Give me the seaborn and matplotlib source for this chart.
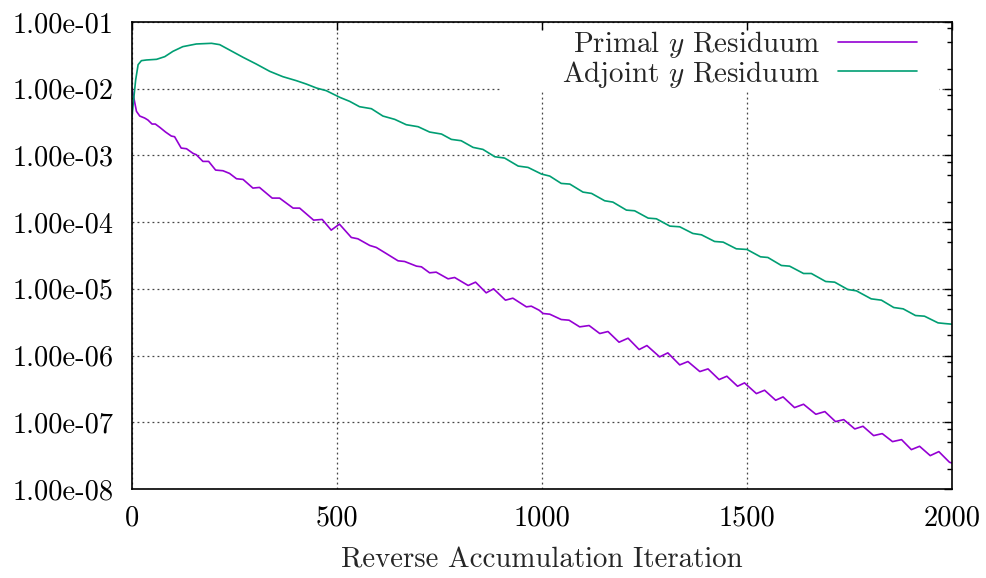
import numpy as np
import pandas as pd
import matplotlib
matplotlib.use("Agg")
import matplotlib.pyplot as plt
from matplotlib.patches import Rectangle
from matplotlib.ticker import FixedLocator, FixedFormatter, LogLocator, NullFormatter
import seaborn as sns

# Residual histories (iteration, log10 of residual norm)
primal_iter = [0, 4, 11, 19, 31, 39, 49, 57, 68, 82, 96, 104, 120, 133, 149, 157,
               173, 187, 204, 222, 238, 255, 271, 295, 311, 342, 360, 393, 409,
               443, 464, 486, 506, 535, 551, 580, 596, 620, 649, 665, 694, 706,
               726, 742, 771, 787, 820, 838, 864, 882, 911, 929, 962, 974, 993,
               1003, 1019, 1047, 1066, 1092, 1115, 1141, 1161, 1188, 1210, 1237,
               1256, 1287, 1307, 1336, 1356, 1385, 1405, 1432, 1451, 1477, 1494,
               1523, 1543, 1570, 1588, 1616, 1638, 1668, 1690, 1716, 1736, 1763,
               1783, 1809, 1830, 1855, 1877, 1901, 1921, 1947, 1968, 1994, 2000]
primal_log10 = [-2.00, -2.12, -2.34, -2.41, -2.44, -2.47, -2.53, -2.53, -2.58, -2.65,
                -2.71, -2.72, -2.89, -2.90, -2.97, -2.99, -3.09, -3.09, -3.22, -3.23,
                -3.27, -3.35, -3.36, -3.49, -3.48, -3.64, -3.64, -3.79, -3.79, -3.97,
                -3.96, -4.12, -4.03, -4.23, -4.25, -4.35, -4.38, -4.47, -4.58, -4.59,
                -4.66, -4.67, -4.76, -4.75, -4.85, -4.83, -4.95, -4.90, -5.06, -5.00,
                -5.17, -5.14, -5.27, -5.26, -5.32, -5.37, -5.38, -5.46, -5.47, -5.57,
                -5.55, -5.67, -5.64, -5.80, -5.74, -5.91, -5.85, -6.02, -5.96, -6.14,
                -6.09, -6.24, -6.20, -6.36, -6.31, -6.46, -6.41, -6.57, -6.52, -6.67,
                -6.62, -6.78, -6.73, -6.88, -6.84, -6.99, -6.96, -7.10, -7.06, -7.20,
                -7.17, -7.29, -7.26, -7.41, -7.36, -7.50, -7.44, -7.60, -7.61]

adjoint_iter = [0, 4, 9, 15, 23, 35, 60, 80, 100, 124, 157, 194, 214, 238, 271, 303,
                336, 368, 401, 425, 450, 474, 507, 531, 555, 584, 612, 641, 669, 698,
                726, 755, 779, 803, 832, 856, 885, 909, 942, 966, 999, 1019, 1047,
                1068, 1100, 1121, 1153, 1173, 1206, 1226, 1259, 1279, 1312, 1336,
                1368, 1389, 1421, 1442, 1474, 1500, 1533, 1551, 1584, 1604, 1638,
                1657, 1692, 1714, 1746, 1767, 1803, 1828, 1858, 1881, 1911, 1933,
                1966, 1982, 2000]
adjoint_log10 = [-2.42, -2.17, -1.87, -1.64, -1.58, -1.57, -1.56, -1.52, -1.44, -1.37,
                 -1.33, -1.32, -1.34, -1.42, -1.53, -1.63, -1.74, -1.82, -1.88, -1.93,
                 -1.99, -2.03, -2.13, -2.19, -2.27, -2.30, -2.41, -2.46, -2.54, -2.57,
                 -2.65, -2.68, -2.76, -2.78, -2.88, -2.91, -3.02, -3.04, -3.16, -3.18,
                 -3.28, -3.31, -3.42, -3.43, -3.55, -3.57, -3.68, -3.70, -3.82, -3.83,
                 -3.94, -3.95, -4.06, -4.07, -4.17, -4.19, -4.29, -4.30, -4.40, -4.41,
                 -4.52, -4.53, -4.65, -4.66, -4.77, -4.77, -4.89, -4.90, -5.01, -5.03,
                 -5.15, -5.17, -5.28, -5.30, -5.40, -5.41, -5.51, -5.52, -5.53]

series_labels = ["Primal $y$ Residuum", "Adjoint $y$ Residuum"]
series_colors = ["#9400d3", "#009e73"]
x_ticks = [0, 500, 1000, 1500, 2000]
y_ticks = [1e-8, 1e-7, 1e-6, 1e-5, 1e-4, 1e-3, 1e-2, 1e-1]
y_tick_labels = ["1.00e-08", "1.00e-07", "1.00e-06", "1.00e-05",
                 "1.00e-04", "1.00e-03", "1.00e-02", "1.00e-01"]
x_label = "Reverse Accumulation Iteration"

sns.set_theme(style="white")
plt.rcParams.update({
    "font.family": ["cmr10", "DejaVu Serif"],
    "mathtext.fontset": "cm",
    "axes.unicode_minus": False,
    "axes.edgecolor": "black",
    "axes.linewidth": 1.2,
})

df = pd.concat([
    pd.DataFrame({"iteration": primal_iter,
                  "residual": np.power(10.0, primal_log10),
                  "series": series_labels[0]}),
    pd.DataFrame({"iteration": adjoint_iter,
                  "residual": np.power(10.0, adjoint_log10),
                  "series": series_labels[1]}),
], ignore_index=True)

fig = plt.figure(figsize=(9.87, 5.78), dpi=100)
ax = fig.add_axes([0.1337, 0.154, 0.8308, 0.808])
ax.set_yscale("log")

sns.lineplot(data=df, x="iteration", y="residual", hue="series",
             hue_order=series_labels, palette=series_colors,
             estimator=None, sort=True, linewidth=1.2, ax=ax, zorder=2)

handles, labels = ax.get_legend_handles_labels()
ax.get_legend().remove()

ax.set_xlim(0, 2000)
ax.set_ylim(1e-8, 1e-1)

ax.xaxis.set_major_locator(FixedLocator(x_ticks))
ax.xaxis.set_major_formatter(FixedFormatter([str(v) for v in x_ticks]))
ax.yaxis.set_major_locator(FixedLocator(y_ticks))
ax.yaxis.set_major_formatter(FixedFormatter(y_tick_labels))
ax.yaxis.set_minor_locator(LogLocator(base=10, subs=[2, 5, 8], numticks=20))
ax.yaxis.set_minor_formatter(NullFormatter())

ax.tick_params(which="both", direction="in", top=True, right=True,
               colors="black", labelsize=20.4, width=1.0)
ax.tick_params(which="major", length=6)
ax.tick_params(which="minor", length=3.5)
ax.tick_params(axis="y", pad=13)
ax.tick_params(axis="x", pad=12)

ax.set_axisbelow(True)
ax.grid(True, which="major", color="#444444", linestyle=(0, (1.5, 2.5)), linewidth=0.9)

ax.set_xlabel(x_label, fontsize=20.8, labelpad=11)
ax.set_ylabel("")

# opaque key area
ax.add_patch(Rectangle((0.4488, 0.850), 0.536, 0.131, transform=ax.transAxes,
                       facecolor="white", edgecolor="none", zorder=1))

leg = ax.legend(handles, labels, loc="upper right", bbox_to_anchor=(0.957, 0.985),
                frameon=False, fontsize=20.9, markerfirst=False, handlelength=2.7,
                handletextpad=0.62, labelspacing=-0.05, borderpad=0, borderaxespad=0)
for line in leg.get_lines():
    line.set_linewidth(1.2)

fig.savefig("out.png", dpi=100)
